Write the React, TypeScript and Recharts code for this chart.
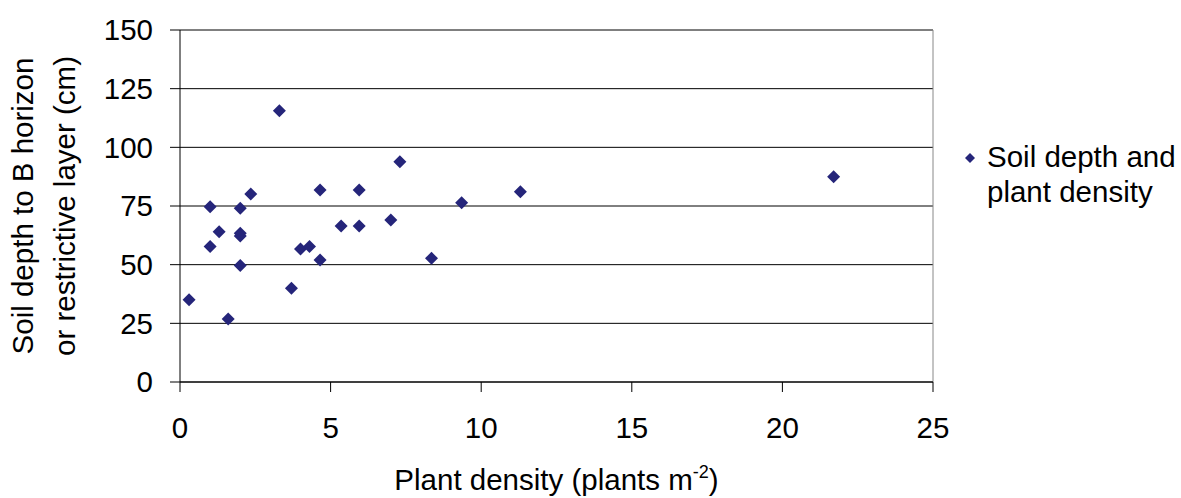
import { ScatterChart, Scatter, XAxis, YAxis, CartesianGrid, ReferenceLine } from "recharts"

const densities = [0.3, 1.0, 1.0, 1.3, 1.6, 2.0, 2.0, 2.0, 2.0, 2.35, 3.3, 3.7, 4.0, 4.3, 4.65, 4.65, 5.35, 5.95, 5.95, 7.0, 7.3, 8.35, 9.35, 11.3, 21.7]
const depths = [35, 74.7, 57.7, 64, 26.8, 74, 63.4, 62.2, 49.6, 80.1, 115.6, 39.9, 56.7, 57.7, 81.8, 52, 66.5, 81.8, 66.5, 69, 93.9, 52.7, 76.4, 81.1, 87.5]
const xTicks = [0, 5, 10, 15, 20, 25]
const yTicks = [0, 25, 50, 75, 100, 125, 150]
const legendLines = ["Soil depth and", "plant density"]

const points = densities.map((x, i) => ({ x, y: depths[i] }))

const FONT = "'Liberation Sans', Arial, sans-serif"
const FS = 29.5
const MARKER = "#25257A"

function Diamond(props: any) {
  const { cx, cy } = props
  const r = 6.5
  return <polygon points={`${cx},${cy - r} ${cx + r},${cy} ${cx},${cy + r} ${cx - r},${cy}`} fill={MARKER} />
}

function XTitle(props: any) {
  const vb = props.viewBox
  return (
    <text x={vb.x + vb.width / 2} y={vb.y + 108} textAnchor="middle" fontSize={FS} fontFamily={FONT} fill="#000">
      Plant density (plants m<tspan fontSize={18} dy={-12}>-2</tspan><tspan dy={12}>)</tspan>
    </text>
  )
}

function YTitle(props: any) {
  const vb = props.viewBox
  const cx = vb.x + 54
  const cy = vb.y + vb.height / 2
  return (
    <text transform={`rotate(-90, ${cx}, ${cy})`} textAnchor="middle" fontSize={FS} fontFamily={FONT} fill="#000">
      <tspan x={cx} y={cy - 21}>Soil depth to B horizon</tspan>
      <tspan x={cx} y={cy + 21}>or restrictive layer (cm)</tspan>
    </text>
  )
}

function LegendBox() {
  return (
    <div style={{ position: "absolute", left: 961, top: 139, display: "flex", fontFamily: FONT, fontSize: FS, lineHeight: "35px", color: "#000" }}>
      <svg width={18} height={35} style={{ flex: "none" }}>
        <polygon points="9,14 14,19 9,24 4,19" fill={MARKER} />
      </svg>
      <div style={{ marginLeft: 8, width: 210 }}>
        {legendLines[0]}<br />{legendLines[1]}
      </div>
    </div>
  )
}

export default function App() {
  return (
    <div style={{ position: "relative", width: 1181, height: 498, background: "#fff" }}>
      <style>{`body{margin:0}`}</style>
      <ScatterChart width={1181} height={498} margin={{ top: 30, right: 248, bottom: 0, left: 0 }}>
        <CartesianGrid vertical={false} stroke="#000" strokeWidth={1} />
        <ReferenceLine x={25} stroke="#888" />
        <XAxis
          type="number"
          dataKey="x"
          domain={[0, 25]}
          ticks={xTicks}
          interval={0}
          height={116}
          tickSize={10}
          tickMargin={25}
          stroke="#000"
          tick={{ fill: "#000", fontSize: FS, fontFamily: FONT }}
          label={(p: any) => <XTitle {...p} />}
        />
        <YAxis
          type="number"
          dataKey="y"
          domain={[0, 150]}
          ticks={yTicks}
          interval={0}
          width={180}
          tickSize={10}
          tickMargin={17}
          stroke="#000"
          tick={{ fill: "#000", fontSize: FS, fontFamily: FONT }}
          label={(p: any) => <YTitle {...p} />}
        />
        <Scatter data={points} fill={MARKER} shape={(p: any) => <Diamond {...p} />} isAnimationActive={false} />
      </ScatterChart>
      <LegendBox />
    </div>
  )
}
